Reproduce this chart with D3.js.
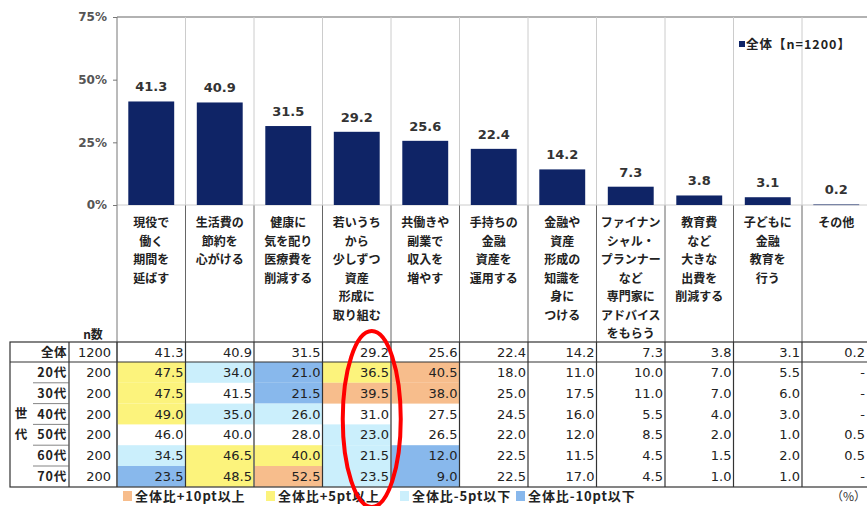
<!DOCTYPE html>
<html><head><meta charset="utf-8">
<script src="https://cdn.jsdelivr.net/npm/d3@7"></script>
<style>
body{margin:0;background:#fff;}
svg{display:block;font-family:"Noto Sans CJK JP","Noto Sans",sans-serif;}
</style></head>
<body><svg id="c" width="867" height="506"></svg>
<script>
const categories = [
  "現役で\n働く\n期間を\n延ばす",
  "生活費の\n節約を\n心がける",
  "健康に\n気を配り\n医療費を\n削減する",
  "若いうち\nから\n少しずつ\n資産\n形成に\n取り組む",
  "共働きや\n副業で\n収入を\n増やす",
  "手持ちの\n金融\n資産を\n運用する",
  "金融や\n資産\n形成の\n知識を\n身に\nつける",
  "ファイナン\nシャル・\nプランナー\nなど\n専門家に\nアドバイス\nをもらう",
  "教育費\nなど\n大きな\n出費を\n削減する",
  "子どもに\n金融\n教育を\n行う",
  "その他"
];
const totalValues = [41.3, 40.9, 31.5, 29.2, 25.6, 22.4, 14.2, 7.3, 3.8, 3.1, 0.2];
const yTicks = [0, 25, 50, 75];
const legendLabel = "全体【n=1200】";
const rowLabels = ["20代", "30代", "40代", "50代", "60代", "70代"];
const rowN = [200, 200, 200, 200, 200, 200];
const totalN = 1200;
const ageValues = [
  [47.5, 34.0, 21.0, 36.5, 40.5, 18.0, 11.0, 10.0, 7.0, 5.5, null],
  [47.5, 41.5, 21.5, 39.5, 38.0, 25.0, 17.5, 11.0, 7.0, 6.0, null],
  [49.0, 35.0, 26.0, 31.0, 27.5, 24.5, 16.0, 5.5, 4.0, 3.0, null],
  [46.0, 40.0, 28.0, 23.0, 26.5, 22.0, 12.0, 8.5, 2.0, 1.0, 0.5],
  [34.5, 46.5, 40.0, 21.5, 12.0, 22.5, 11.5, 4.5, 1.5, 2.0, 0.5],
  [23.5, 48.5, 52.5, 23.5, 9.0, 22.5, 17.0, 4.5, 1.0, 1.0, null]
];
const highlightLegend = ["全体比+10pt以上", "全体比+5pt以上", "全体比-5pt以下", "全体比-10pt以下"];

const svg = d3.select("#c");
const navy = "#0f2466";
const hlColors = ["#f7bd8c", "#fcf37c", "#cbeffc", "#88b8ec"];
const numFont = "'DejaVu Sans',sans-serif";

const x = d3.scaleBand().domain(d3.range(categories.length)).range([117, 117 + 68.5 * 11]).paddingInner(0).paddingOuter(0);
const y = d3.scaleLinear().domain([0, 75]).range([205, 17]);
const bw = x.bandwidth() * 0.67;

const tableTop = 342, tableBottom = 487;
const rowY0 = 362, rowH = 20.8;

// chart gridlines
svg.append("line").attr("x1", 117).attr("x2", 867).attr("y1", y(75)).attr("y2", y(75)).attr("stroke", "#999").attr("stroke-width", 1.5);
x.domain().forEach(i => {
  const xr = x(i) + x.bandwidth();
  svg.append("line").attr("x1", xr).attr("x2", xr).attr("y1", y(75)).attr("y2", 205).attr("stroke", "#ccc");
  svg.append("line").attr("x1", xr).attr("x2", xr).attr("y1", 205).attr("y2", tableTop).attr("stroke", "#666");
});
svg.append("line").attr("x1", 117).attr("x2", 867).attr("y1", 205).attr("y2", 205).attr("stroke", "#ccc");

// y axis
const yAxis = d3.axisLeft(y).tickValues(yTicks).tickFormat(d => d + "%").tickSize(4).tickSizeOuter(0);
const ya = svg.append("g").attr("transform", "translate(117,0)").call(yAxis);
ya.select(".domain").attr("stroke", "#777").attr("d", `M0,${y(75)}V${tableBottom}`);
ya.selectAll(".tick line").attr("stroke", "#777");
ya.selectAll("text").attr("font-size", 12).attr("font-weight", "bold").attr("fill", "#555").attr("x", -10)
  .attr("font-family", numFont);

// bars
svg.selectAll("rect.bar").data(totalValues).join("rect").attr("class", "bar")
  .attr("x", (d, i) => x(i) + (x.bandwidth() - bw) / 2)
  .attr("width", bw)
  .attr("y", d => y(d))
  .attr("height", d => Math.max(0.6, y(0) - y(d)))
  .attr("fill", navy);
svg.selectAll("text.val").data(totalValues).join("text").attr("class", "val")
  .attr("x", (d, i) => x(i) + x.bandwidth() / 2)
  .attr("y", d => y(d) - 10)
  .attr("text-anchor", "middle").attr("font-size", 13).attr("font-weight", "bold").attr("fill", "#333")
  .attr("font-family", numFont)
  .text(d => d.toFixed(1));

// legend top right
svg.append("rect").attr("x", 739).attr("y", 41).attr("width", 6).attr("height", 6).attr("fill", navy);
svg.append("text").attr("x", 746).attr("y", 49).attr("font-size", 12.5).attr("font-weight", "bold").attr("letter-spacing", 1).attr("fill", "#222")
  .text(legendLabel);

// category labels
categories.forEach((c, i) => {
  const t = svg.append("text").attr("text-anchor", "middle").attr("font-size", 12).attr("font-weight", "bold").attr("fill", "#222");
  c.split("\n").forEach((line, k) => {
    t.append("tspan").attr("x", x(i) + x.bandwidth() / 2).attr("y", 227 + k * 18.5).text(line);
  });
});

// n数
svg.append("text").attr("x", 93).attr("y", 339).attr("text-anchor", "middle").attr("font-size", 12).attr("font-weight", "bold").attr("fill", "#222").text("n数");

// table cell highlight
function hl(v, base) {
  if (v == null) return null;
  const d = v - base;
  if (d >= 10) return hlColors[0];
  if (d >= 5) return hlColors[1];
  if (d <= -10) return hlColors[3];
  if (d <= -5) return hlColors[2];
  return null;
}
ageValues.forEach((row, r) => {
  row.forEach((v, c) => {
    const col = hl(v, totalValues[c]);
    if (col) svg.append("rect").attr("x", x(c) + 0.5).attr("y", rowY0 + r * rowH).attr("width", x.bandwidth() - 1).attr("height", rowH).attr("fill", col);
  });
});

// table lines
const tl = svg.append("g").attr("stroke", "#333").attr("stroke-width", 1.2);
tl.append("rect").attr("x", 10).attr("y", tableTop).attr("width", 870).attr("height", tableBottom - tableTop).attr("fill", "none");
tl.append("line").attr("x1", 10).attr("x2", 880).attr("y1", rowY0).attr("y2", rowY0);
tl.append("line").attr("x1", 69).attr("x2", 69).attr("y1", tableTop).attr("y2", tableBottom);
x.domain().forEach(i => {
  tl.append("line").attr("x1", x(i)).attr("x2", x(i)).attr("y1", tableTop).attr("y2", tableBottom);
});
rowLabels.forEach((l, r) => {
  if (r < rowLabels.length - 1) tl.append("line").attr("x1", 33).attr("x2", 69).attr("y1", rowY0 + (r + 1) * rowH).attr("y2", rowY0 + (r + 1) * rowH).attr("stroke-width", 0.8).attr("stroke", "#666");
});

const valX = c => Math.min(x(c) + x.bandwidth() - 2, 865);
// 全体 row
svg.append("text").attr("x", 67).attr("y", 357).attr("text-anchor", "end").attr("font-size", 12.5).attr("font-weight", "bold").attr("letter-spacing", 0.5).attr("fill", "#222").text("全体");
svg.append("text").attr("x", 111).attr("y", 357).attr("text-anchor", "end").attr("font-size", 13).attr("fill", "#222").attr("font-family", numFont).text(totalN);
totalValues.forEach((v, c) => {
  svg.append("text").attr("x", valX(c)).attr("y", 357).attr("text-anchor", "end").attr("font-size", 13).attr("fill", "#222").attr("font-family", numFont).text(v.toFixed(1));
});
rowLabels.forEach((l, r) => {
  const cy = rowY0 + r * rowH + rowH / 2 + 4.5;
  svg.append("text").attr("x", 67).attr("y", cy).attr("text-anchor", "end").attr("font-size", 12.5).attr("font-weight", "bold").attr("letter-spacing", 0.8).attr("fill", "#222").text(l);
  svg.append("text").attr("x", 111).attr("y", cy).attr("text-anchor", "end").attr("font-size", 13).attr("fill", "#222").attr("font-family", numFont).text(rowN[r]);
  ageValues[r].forEach((v, c) => {
    svg.append("text").attr("x", valX(c)).attr("y", cy).attr("text-anchor", "end").attr("font-size", 13).attr("fill", "#222").attr("font-family", numFont).text(v == null ? "-" : v.toFixed(1));
  });
});
svg.append("text").attr("x", 21).attr("y", 418).attr("text-anchor", "middle").attr("font-size", 12.5).attr("font-weight", "bold").attr("fill", "#222").text("世");
svg.append("text").attr("x", 21).attr("y", 439).attr("text-anchor", "middle").attr("font-size", 12.5).attr("font-weight", "bold").attr("fill", "#222").text("代");

// bottom legend
const legX = [123, 266, 400, 516];
highlightLegend.forEach((t, i) => {
  svg.append("rect").attr("x", legX[i]).attr("y", 491).attr("width", 9).attr("height", 10).attr("fill", hlColors[i]);
  svg.append("text").attr("x", legX[i] + 12).attr("y", 501).attr("font-size", 13).attr("font-weight", "bold").attr("letter-spacing", 0.9).attr("fill", "#222").text(t);
});
svg.append("text").attr("x", 866).attr("y", 501).attr("text-anchor", "end").attr("font-size", 12).attr("fill", "#333").text("（%）");

// red ellipse annotation
svg.append("ellipse").attr("cx", x(3) + x.bandwidth() / 2 + 15).attr("cy", 419).attr("rx", 29).attr("ry", 88)
  .attr("fill", "none").attr("stroke", "#f00").attr("stroke-width", 4);
</script></body></html>
